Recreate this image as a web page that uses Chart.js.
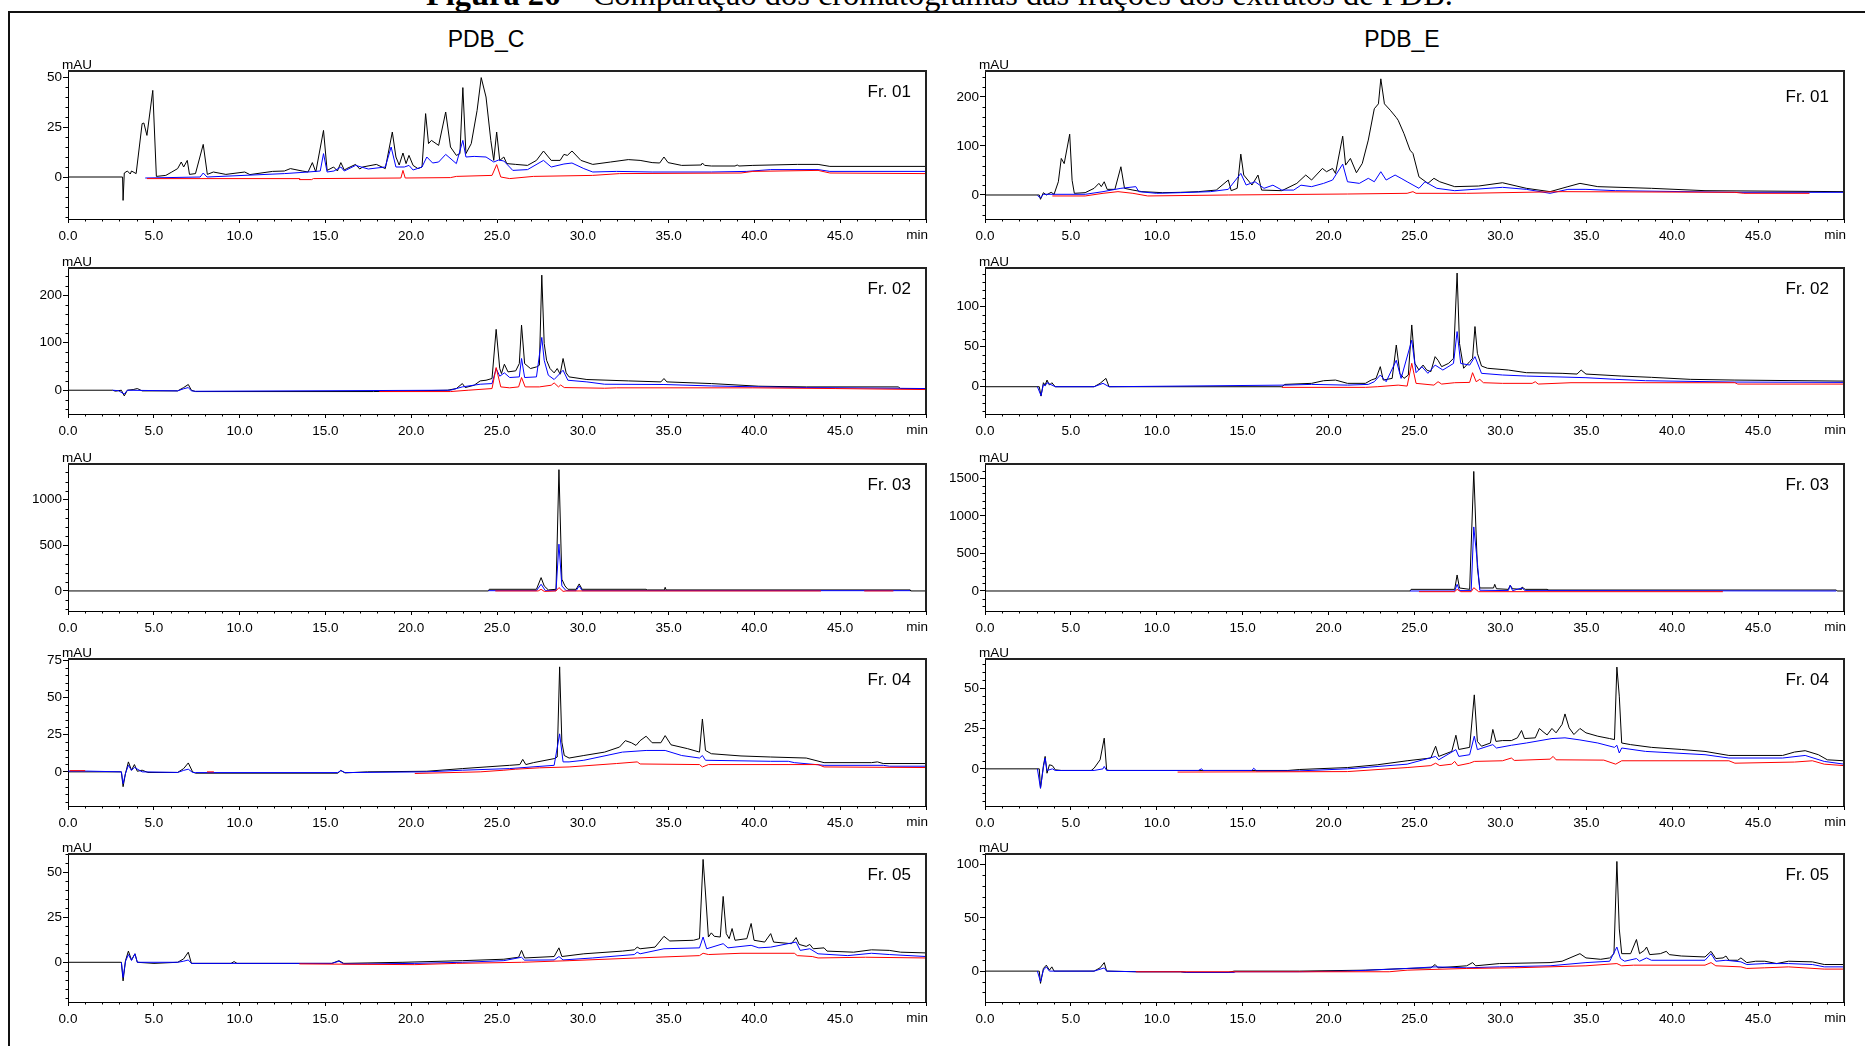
<!DOCTYPE html>
<html>
<head>
<meta charset="utf-8">
<script src="https://cdn.jsdelivr.net/npm/chart.js@4.4.1/dist/chart.umd.min.js"></script>
<style>
  html, body { margin: 0; padding: 0; background: #fff; }
  body { width: 1865px; height: 1046px; position: relative; overflow: hidden; font-family: "Liberation Sans", Arial, sans-serif; }
  canvas { position: absolute; }
  .frameTop { position: absolute; left: 8px; top: 11px; width: 1857px; height: 2px; background: #111; }
  .frameLeft { position: absolute; left: 8px; top: 11px; width: 2px; height: 1035px; background: #111; }
  #title { position: absolute; white-space: nowrap; font-family: "Liberation Serif", "Times New Roman", serif; color: #000; }
  .head { position: absolute; top: 28px; font-size: 23px; line-height: 23px; transform: translateX(-50%); color: #000; }
</style>
</head>
<body>
<div id="title"><b>Figura 26</b> – Comparação dos cromatogramas das frações dos extratos de PDB.</div>
<div class="frameTop"></div>
<div class="frameLeft"></div>
<div class="head" style="left:486px">PDB_C</div>
<div class="head" style="left:1402px">PDB_E</div>
<script>
// x: retention time (min), y: absorbance (mAU); [t, mAU] pairs

// ---- PDB_C ----
const pdbC1Black = [[0,0],[3.18,0],[3.21,-11.7],[3.28,2],[3.46,3],[3.63,1.5],[3.7,3],[3.97,1.7],[4.32,26.7],[4.42,27],[4.6,20.8],[4.94,43.3],[5.15,0.3],[5.7,0.8],[6.05,2.5],[6.39,4.2],[6.6,7.5],[6.74,5],[6.95,8.3],[7.08,1.3],[7.43,1.7],[7.88,16.3],[8.12,1.3],[8.47,2.5],[9.2,1.3],[10.3,2.5],[10.6,1.2],[11.92,2.8],[12.61,3],[12.96,4.2],[13.65,3],[13.99,2.5],[14.24,7.2],[14.44,2.5],[14.89,23.3],[15.1,3.3],[15.48,5],[15.7,3],[15.9,7.2],[16.1,3.5],[16.24,4.2],[16.76,6.3],[17.0,4],[17.17,5],[17.97,6.3],[18.49,4.2],[18.9,22.5],[19.11,10],[19.3,6],[19.52,12],[19.7,6.7],[19.87,10.8],[20.11,5.8],[20.39,4.2],[20.63,5],[20.84,31.7],[21.01,16.7],[21.18,18.3],[21.6,15.8],[22.01,32.5],[22.29,15],[22.63,10.8],[22.84,11.7],[23.01,44.7],[23.19,11.7],[23.5,16.7],[23.84,33.3],[24.08,49.7],[24.36,40],[24.64,18.3],[24.81,8.3],[24.98,22.5],[25.16,8.3],[25.4,10],[25.57,6.7],[26.09,6.3],[26.78,5.8],[27.3,8.3],[27.71,13],[28.16,8.3],[28.68,8.3],[28.9,11.3],[29.1,10.8],[29.37,13],[29.89,8.3],[30.58,6.3],[31.62,7.5],[32.65,8.7],[33.34,8.3],[34.04,7.2],[34.48,7],[34.73,10],[34.97,7.2],[35.76,5.8],[36.9,6],[36.97,7],[37.1,5.8],[37.49,5.5],[38.87,5.5],[39.0,6],[39.1,5.5],[39.91,5.8],[42.5,6.3],[43.71,6.3],[44.4,5.3],[50,5.3]];
const pdbC1Blue = [[4.5,-0.5],[7.7,0],[7.88,2],[8.1,0],[12.61,1.7],[13.99,2.5],[14.7,3],[14.89,11.7],[15.1,2.5],[15.5,3],[15.9,5],[16.1,3],[16.76,5.8],[17.5,4],[18.49,5],[18.83,15],[19.11,5],[19.6,5],[19.87,5.8],[20.11,3.5],[20.63,5],[20.91,10],[21.25,7],[21.6,7.5],[22.01,11.3],[22.63,6.7],[23.01,18.3],[23.19,10],[23.67,10.3],[24.36,10],[24.81,7.5],[25.1,8.5],[25.4,8],[25.92,3.3],[26.78,3.7],[27.71,8.3],[28.16,5],[28.9,6.5],[29.37,7],[30.06,4.2],[30.58,2.5],[31.96,2.8],[34.04,2.5],[37.49,2.5],[39.56,2.8],[40.95,3.7],[43.71,3.7],[44.4,2.8],[50,2.8]];
const pdbC1Red = [[4.6,-0.8],[13.48,-0.8],[13.5,-1.3],[14.2,-1.3],[14.3,-0.8],[19.4,-0.5],[19.52,3.3],[19.65,-0.5],[22.29,-0.3],[22.63,0.3],[24.71,0.8],[24.98,6.2],[25.22,0],[25.74,-0.8],[27.12,0.3],[30.58,0.8],[32.14,1.7],[39.22,2],[39.91,2.8],[43.71,3.3],[44.4,2],[50,1.7]];

const pdbC2Black = [[0,0],[2.6,0],[2.76,-2],[3.11,0],[3.28,-12],[3.46,0],[3.8,1.4],[4.04,3.5],[4.32,-1.4],[6.39,-1.4],[6.74,5.6],[7.01,12],[7.19,0],[7.43,-2.8],[17.8,-2.8],[22.11,0],[22.63,3.5],[22.98,14],[23.15,5.6],[23.67,10.5],[24.02,19.6],[24.36,21],[24.71,24.6],[24.95,128],[25.16,45.6],[25.26,35],[25.43,54.7],[25.64,38.6],[26.09,40.7],[26.3,56],[26.43,137],[26.61,56],[26.95,45.6],[27.3,49],[27.47,52.6],[27.61,242],[27.75,98],[27.89,63],[28.09,45.6],[28.33,36.5],[28.51,45.6],[28.68,33.7],[28.85,66.7],[29.03,36.5],[29.2,28],[30.24,22.5],[32.65,19.6],[34.55,17.5],[34.73,24.6],[34.9,17.5],[37.49,14],[40.26,8.4],[43.02,7],[48.38,7],[48.52,3.5],[50,3.5]];
const pdbC2Blue = [[2.6,0],[2.94,-1],[3.28,-8],[3.46,0],[6.39,-1.4],[6.74,3],[7.01,5.6],[7.19,-1.4],[7.43,-2.2],[22.29,0],[22.98,7],[24.02,12.6],[24.71,14],[24.95,45.6],[25.16,29.5],[25.43,36.5],[25.74,26.7],[26.3,28],[26.43,66.7],[26.61,26.7],[27.3,28],[27.61,111],[27.75,63],[27.99,31.6],[28.33,22.5],[28.85,42],[29.13,21],[30.24,17.5],[31.27,12.6],[34.73,12],[37.49,9],[40.26,7],[43.02,5.6],[50,3.5]];
const pdbC2Red = [[18.14,-2.8],[22.29,-2.8],[23.32,0],[24.71,3.5],[24.95,47.7],[25.22,7],[25.74,5],[26.26,7],[26.43,26.7],[26.64,7],[27.47,7],[28.16,10.5],[28.33,15.4],[28.58,7],[28.71,11],[28.92,5.6],[31.27,4.2],[31.96,5],[39.91,5],[44.75,3.5],[50,1.4]];

const pdbC3Black = [[0,0],[24.5,0],[24.55,18],[27.3,18],[27.57,146],[27.75,55],[27.99,11],[28.44,18],[28.61,1330],[28.78,128],[28.96,55],[29.13,18],[29.61,18],[29.79,77],[29.96,18],[33.69,18],[33.75,11],[34.75,11],[34.8,40],[34.85,11],[49.07,11],[49.1,0],[50,0]];
const pdbC3Blue = [[24.5,3],[27.3,3],[27.57,73],[27.82,3],[28.44,3],[28.61,513],[28.78,55],[29.03,3],[29.61,3],[29.79,55],[29.96,3],[49.07,3]];
const pdbC3Red = [[24.9,0],[27.4,0],[27.57,18],[27.75,-5],[28.44,0],[28.61,37],[28.85,-5],[29.03,0],[43.88,0],[43.9,null],[46.4,0],[48.1,0]];

const pdbC4Black = [[0,0],[3.11,0],[3.21,-10],[3.35,-1.1],[3.52,6.7],[3.7,1.1],[3.87,4.9],[4.04,0.4],[4.32,1.1],[4.66,-0.4],[6.39,-0.4],[6.74,2.2],[7.01,6],[7.26,0],[7.43,-0.9],[15.72,-0.9],[15.9,0.9],[16.14,-0.7],[17.45,0],[20.91,0.4],[22.98,2.2],[24.36,3.3],[25.74,4.4],[26.33,4.9],[26.5,8.4],[26.68,4.9],[27.12,6.2],[28.33,8.9],[28.51,10],[28.65,70.7],[28.78,20],[28.92,11],[29.2,9.3],[30.06,11],[31.27,13.3],[32.14,16.7],[32.48,21],[32.83,19.6],[33.1,17.8],[33.34,21],[33.69,24],[34.04,19.6],[34.55,19.6],[34.8,24.4],[35.14,18.2],[36.11,15.6],[36.8,13.3],[36.97,35.6],[37.15,14.4],[37.49,12.2],[39.22,10.7],[40.95,10],[43.02,9.3],[44.06,6.2],[46.82,6.2],[47.17,6.7],[47.51,5.6],[50,5.6]];
const pdbC4Blue = [[0,0.5],[1.1,0.5],[3.11,0],[3.21,-8],[3.35,-1],[3.52,4.4],[3.7,1],[3.87,3],[4.32,0],[6.39,-0.4],[6.74,1],[7.01,1.8],[7.26,-0.4],[7.43,-0.5],[15.72,-0.5],[15.9,0.9],[16.14,-0.5],[20.91,0],[22.98,1.1],[25.74,2.2],[28.33,4.4],[28.65,25.6],[28.85,6.7],[29.2,6.7],[30.06,7.8],[32.31,13.3],[33.69,14.4],[34.8,14.4],[35.76,11],[36.8,9.3],[36.97,11],[37.15,7.8],[40.95,7.1],[41.98,7.1],[42.33,6.2],[44.06,4.4],[47.51,4.4],[47.86,3.8],[50,3.8]];
const pdbC4Red = [[0.1,0.8],[1.0,0.8],[1.1,null],[8.1,0],[8.5,0],[8.6,null],[20.21,-1.1],[24.02,0],[25.4,1.1],[26.09,1.8],[27.47,2.7],[29.2,3.3],[31.96,5.6],[33.17,6.7],[33.34,5.3],[36.8,4.9],[36.97,3.3],[37.32,4.9],[43.71,4.9],[44.06,3.3],[50,2.9]];

const pdbC5Black = [[0,0],[3.11,0],[3.21,-10.3],[3.35,0.9],[3.52,6.2],[3.7,1.3],[3.9,4.7],[4.04,0],[5.01,-0.6],[6.39,0],[6.74,1.9],[7.01,5.6],[7.19,-0.6],[9.5,-0.6],[9.68,0.4],[9.85,-0.6],[15.38,-0.6],[15.79,0.9],[16.07,-0.6],[19.52,0],[22.98,0.9],[25.4,1.7],[26.26,2.8],[26.43,6.6],[26.61,2.4],[28.33,3.2],[28.61,8],[28.78,3.2],[30.06,4.7],[32.31,6.2],[33.0,6.9],[33.17,8.4],[33.34,7.5],[34.21,8.4],[34.73,14.4],[35.07,11.8],[36.45,12.2],[36.8,13.1],[37.01,57],[37.15,38.4],[37.32,14],[37.49,16.3],[37.66,14.4],[38.01,14],[38.18,36.5],[38.36,15.9],[38.53,13.1],[38.7,18.7],[38.87,12.2],[39.56,13.1],[39.81,21.5],[39.98,12.2],[40.6,11.2],[40.95,15.9],[41.12,11.2],[42.16,10.3],[42.43,13.7],[42.61,9.9],[43.02,8.8],[43.23,9.9],[43.43,7.5],[44.06,8],[44.23,6.2],[45.78,5.6],[46.82,6.9],[47.86,6.6],[48.52,5.6],[50,5.2]];
const pdbC5Blue = [[3.11,0],[3.21,-8.4],[3.35,0.5],[3.52,4.3],[3.7,1],[3.9,4.7],[4.04,0],[6.39,0],[6.74,0.6],[7.01,1.3],[7.19,-0.6],[15.38,-0.6],[15.79,0.6],[16.07,-0.9],[17.45,-0.9],[20.21,-0.6],[22.98,0],[25.4,0.9],[26.43,2.8],[26.6,1.2],[28.33,1.3],[28.61,3.2],[28.85,1.3],[30.58,2.4],[33.0,4.3],[33.17,5.6],[33.34,4.7],[34.73,7.5],[36.8,8],[37.01,14],[37.22,7.5],[38.18,10.3],[38.46,8],[39.81,9.4],[40.26,8],[40.95,8.4],[42.43,11.2],[42.67,6.6],[43.23,7.5],[43.71,4.7],[45.44,3.7],[46.82,5],[47.86,4.3],[50,3.2]];
const pdbC5Red = [[13.48,-0.9],[20.21,-1.3],[22.63,-0.6],[26.43,0],[29.2,0.9],[33.17,2.4],[36.8,3.7],[37.01,5],[37.32,4.3],[39.22,5],[42.33,5],[42.5,3.7],[43.37,3.2],[43.71,2.4],[46.48,2.8],[50,2.4]];

// ---- PDB_E ----
const pdbE1Black = [[0,0],[3.16,0],[3.23,-8.8],[3.4,4.7],[3.57,0],[3.85,5.4],[4.02,1.4],[4.27,27],[4.44,74.6],[4.61,64],[4.93,124],[5.07,30],[5.2,3.4],[5.83,4.7],[6.35,13.6],[6.63,23.7],[6.77,17],[6.94,27],[7.11,11.5],[7.56,11.5],[7.91,57.6],[8.12,13.6],[8.61,10],[9.13,6.8],[10.34,4.7],[11.38,5.4],[12.42,6.8],[13.46,10],[14.16,30.5],[14.33,8.8],[14.68,13.6],[14.89,83.4],[15.06,40.7],[15.54,20.3],[15.89,40.7],[16.1,10],[17.28,8.8],[18.15,23.7],[18.67,40.7],[19.01,30.5],[19.64,54.2],[19.88,47.5],[20.23,54.2],[20.4,44],[20.82,120],[20.99,61],[21.27,74.6],[21.62,45.4],[21.96,64.4],[22.31,112],[22.66,176],[22.9,186],[23.04,237],[23.25,186],[23.59,173],[23.94,158],[24.05,152.5],[24.39,125],[24.74,91.5],[24.91,84.7],[25.26,37],[25.78,23.7],[26.13,34],[26.47,27],[27.34,17],[28.73,18.3],[30.12,25],[31.51,13.6],[32.89,6.8],[33.93,17],[34.63,23.7],[35.67,17],[38.79,13.6],[41.91,8.8],[50,6.8]];
const pdbE1Blue = [[3.05,-1],[3.23,-6],[3.4,1.4],[5.83,1.4],[6.87,6.8],[7.91,13.6],[8.78,17],[8.95,6.8],[9.99,3.4],[11.38,4.7],[13.12,6.8],[14.16,11.5],[14.89,44],[15.2,20.3],[15.72,27],[16.24,13.6],[16.76,20],[17.28,10],[17.97,10],[18.39,20],[19.01,17],[19.71,23.7],[20.23,30.5],[20.82,63],[21.1,27],[21.79,23.7],[22.31,34],[22.66,27],[23.04,47.5],[23.35,30.5],[23.87,40.7],[24.22,34],[24.57,27],[25.26,13.6],[25.61,27],[26.3,13.6],[27.34,8.8],[30.12,15.6],[31.51,11.5],[32.89,3.4],[33.93,11.5],[34.98,11.5],[36.71,8.8],[43.65,5.4],[50,5.4]];
const pdbE1Red = [[3.92,-2],[5.83,-2],[6.87,3.4],[7.74,6.8],[8.61,3.4],[9.47,-2],[14.16,0],[21.1,2],[24.57,3.4],[24.91,6.8],[25.09,3.4],[28.04,3.4],[33.59,6.8],[43.65,5.4],[44.17,3.4],[47.99,3.4]];

const pdbE2Black = [[0,0],[3.16,0],[3.26,-11.7],[3.4,5],[3.5,2],[3.61,8.3],[3.75,2],[3.89,5],[4.09,0],[6.35,0],[6.7,4.2],[7.04,10.4],[7.22,0],[17.28,0],[17.45,2.9],[19.01,4.2],[19.71,7.5],[20.4,8.3],[21.1,4.2],[22.14,4.2],[22.48,8.3],[22.76,10.4],[23.01,25],[23.18,8.3],[23.7,10.4],[23.94,52],[24.15,16.7],[24.39,10.4],[24.64,14.6],[24.84,77],[25.02,29.2],[25.26,20.8],[25.5,27],[25.71,20.8],[25.95,18.75],[26.2,37.5],[26.37,33],[26.58,25],[26.99,29.2],[27.27,35.4],[27.48,141.7],[27.62,54],[27.86,23],[28.21,31.25],[28.38,35.4],[28.52,75],[28.66,41.7],[28.9,25.8],[29.25,23],[30.46,20.8],[31.51,17.5],[33.59,16.7],[34.46,15.8],[34.7,20.8],[34.98,15.8],[37.06,13.3],[38.79,11.7],[41.05,9.2],[43.65,8.3],[50,7]];
const pdbE2Blue = [[3.05,0],[3.26,-11],[3.4,3],[3.5,1],[3.61,5],[4.09,0],[6.35,0],[6.87,4.2],[7.22,0],[17.45,2],[19.01,2.9],[21.1,2],[22.31,2.9],[22.66,6.25],[23.01,14.6],[23.35,6.25],[23.94,33],[24.22,10.4],[24.84,58],[25.09,17.5],[25.43,25],[25.78,16.7],[26.2,27],[26.65,20.8],[27.27,29],[27.48,68.75],[27.69,29],[28.21,27],[28.52,37.5],[28.9,16.7],[30.12,14.6],[31.51,13.3],[32.89,12.5],[34.98,11.25],[36.71,9.2],[38.45,7.5],[43.65,5.8],[50,5.4]];
const pdbE2Red = [[17.28,-0.8],[22.14,-0.8],[22.83,0],[24.05,2],[24.57,0.8],[24.84,29.2],[25.09,4.2],[26.13,2],[26.37,6.25],[26.58,3.3],[27.34,5],[28.21,5.4],[28.38,17.5],[28.59,6.25],[28.8,9.2],[29.01,5],[30.12,4.2],[31.85,4.2],[32.03,6.25],[32.2,3.3],[34.11,5],[43.65,5],[43.82,3.3],[50,3.3]];

const pdbE3Black = [[0,0],[24.74,0],[24.8,22],[27.34,22],[27.48,213],[27.62,40],[28.21,22],[28.45,1590],[28.66,311],[28.8,40],[29.6,40],[29.67,89],[29.77,30],[30.46,22],[30.57,75],[30.71,30],[31.23,22],[31.26,53],[31.44,22],[32.72,22],[32.75,13],[49.55,13],[49.6,0],[50,0]];
const pdbE3Blue = [[24.74,0],[27.34,0],[27.48,89],[27.62,5],[28.3,5],[28.45,852],[28.66,377],[28.8,10],[30.46,5],[30.57,75],[30.71,5],[31.26,40],[31.44,5],[49.55,0]];
const pdbE3Red = [[25.26,-9],[27.34,-9],[27.48,22],[27.69,-9],[28.3,-9],[28.45,44],[28.73,-9],[42.95,-9]];

const pdbE4Black = [[0,0],[3.16,0],[3.23,-12],[3.4,2],[3.5,7.7],[3.61,-2.7],[3.75,2.5],[3.92,2],[4.09,-0.6],[4.44,-1],[6.18,-1],[6.35,0.4],[6.7,5.6],[6.94,19],[7.08,-0.6],[7.22,-1],[17.63,-1],[18.32,-0.4],[21.1,0.8],[22.83,2.5],[24.57,5],[25.95,6.7],[26.23,14],[26.41,7.7],[27.17,10.8],[27.41,20.8],[27.58,12],[28.21,13.3],[28.48,45.8],[28.66,17],[28.9,14],[29.42,16],[29.56,24.4],[29.74,17],[30.12,17.5],[30.64,17.5],[30.99,19.2],[31.23,23.75],[31.4,18.75],[32.03,19.2],[32.27,25],[32.48,23],[32.72,21],[33.0,25],[33.24,22.3],[33.59,27.5],[33.76,34],[34.0,25.4],[34.28,21.25],[34.63,25],[34.98,22.3],[35.67,20.2],[36.36,18.75],[36.64,18.1],[36.78,63],[36.92,45],[37.06,16],[37.58,15],[38.79,13.3],[40.53,12],[41.91,10.8],[43.3,8.3],[46.43,8.3],[47.12,10.4],[47.74,11.25],[48.51,8.75],[49.03,5.6],[50,5]];
const pdbE4Blue = [[3.05,0],[3.23,-12],[3.4,1],[3.5,6.7],[3.61,-1],[3.92,0],[4.09,-1],[6.35,-1],[6.87,0],[6.94,1.5],[7.08,-1],[12.42,-1],[12.6,0],[12.7,-1],[15.54,-1],[15.64,0.4],[15.8,-1.25],[18.32,-1.25],[21.1,0],[24.57,2.9],[26.23,7.7],[26.41,5.6],[27.41,11.9],[27.58,7.7],[28.21,8.75],[28.48,20.2],[28.66,11.9],[29.56,15],[29.77,12.9],[30.64,14.6],[31.51,16],[33.0,18.75],[33.76,19.2],[34.63,17.9],[35.67,16],[36.64,13.3],[36.78,14.6],[36.92,9.8],[37.06,12.9],[38.45,10.8],[41.91,8.75],[43.3,6.7],[46.43,6.7],[47.74,8.3],[48.85,4.6],[50,2.9]];
const pdbE4Red = [[11.21,-2],[21.1,-1.7],[24.57,0.8],[25.95,2],[26.23,3.5],[26.47,2],[27.17,2.9],[27.34,4.6],[27.52,2],[28.21,3.5],[28.48,4.6],[30.12,5],[30.64,6.7],[30.81,5.2],[32.89,6],[33.07,7.7],[33.24,5.6],[36.02,5.4],[36.71,2.9],[37.06,5],[43.3,5],[43.65,3.5],[47.12,4.2],[48.16,5],[48.85,2.9],[50,2]];

const pdbE5Black = [[0,0],[3.16,0],[3.23,-11.5],[3.4,2.5],[3.57,5.6],[3.75,0.9],[3.89,4],[4.02,0],[6.35,0],[6.7,3.1],[6.94,8],[7.08,0],[8.95,-0.6],[11.38,-0.6],[11.73,-1.2],[14.16,-1.2],[14.5,0],[18.32,0],[22.14,0.9],[24.57,2.5],[25.95,3.1],[26.2,6.2],[26.37,3.1],[28.04,5],[28.38,8],[28.56,5],[29.94,7.1],[32.89,8],[33.59,9.3],[34.63,16.4],[34.98,12.4],[35.84,11.1],[36.36,12.4],[36.61,16.4],[36.78,103],[36.92,39.6],[37.06,16.4],[37.58,16.4],[37.92,29.7],[38.1,16.4],[38.38,19.5],[38.51,22.6],[38.69,15.5],[39.31,16.4],[39.66,18.6],[39.83,15.5],[40.53,14.2],[41.91,13.3],[42.26,18.6],[42.54,11.8],[42.96,12.4],[43.13,14.2],[43.3,10.2],[43.82,10.2],[44.0,12.4],[44.34,8],[44.86,9.3],[45.39,9.3],[46.08,7.1],[46.77,9.3],[48.16,8.7],[48.85,6.2],[50,6.2]];
const pdbE5Blue = [[3.05,0],[3.23,-10],[3.4,1],[3.57,4],[3.75,0],[6.35,0],[6.94,3],[7.08,0],[8.78,-0.6],[11.38,-0.6],[11.73,-1.2],[14.5,-1.2],[14.6,-0.6],[18.32,-0.6],[21.1,0],[24.57,2.5],[26.2,4],[28.04,3.1],[29.94,4],[32.89,5],[34.98,8],[36.36,9.3],[36.78,22.6],[36.99,11.8],[37.23,9.3],[37.92,11.8],[38.1,9.3],[38.51,12.4],[38.79,10.2],[41.91,10.2],[42.26,16.4],[42.54,9.3],[43.13,10.2],[44.0,8.7],[44.34,6.2],[45.39,7.1],[46.77,7.1],[48.16,6.2],[48.85,4],[50,4]];
const pdbE5Red = [[8.78,-0.6],[18.49,-0.6],[23.53,-0.6],[24.57,0.9],[28.04,2.5],[30.81,3.1],[34.98,5],[36.78,7.1],[37.06,5],[37.75,5.6],[41.91,5.6],[42.26,8],[42.54,5],[44.0,4],[44.34,2.5],[45.39,3.1],[46.77,4],[48.85,1.9],[50,1.9]];

// axis ranges (mAU) and labelled step of each panel
const yRanges = { c1:[-21,53], c2:[-50,257], c3:[-220,1392], c4:[-23,76], c5:[-22,60],
                  e1:[-49,253], e2:[-34,148], e3:[-266,1689], e4:[-23,68], e5:[-29,110] };
const ySteps  = { c1:25, c2:100, c3:500, c4:25, c5:25, e1:100, e2:50, e3:500, e4:25, e5:50 };
const fracLabels = ['Fr. 01','Fr. 02','Fr. 03','Fr. 04','Fr. 05'];

// layout
const colX = { c:[68,926], e:[985,1844] };
const rowY = [[71,219],[268,414],[464,611],[659,806],[854,1002]];

const panels = [
  { key:'c1', col:'c', row:0, traces:[pdbC1Red, pdbC1Blue, pdbC1Black] },
  { key:'c2', col:'c', row:1, traces:[pdbC2Red, pdbC2Blue, pdbC2Black] },
  { key:'c3', col:'c', row:2, traces:[pdbC3Red, pdbC3Blue, pdbC3Black] },
  { key:'c4', col:'c', row:3, traces:[pdbC4Red, pdbC4Blue, pdbC4Black] },
  { key:'c5', col:'c', row:4, traces:[pdbC5Red, pdbC5Blue, pdbC5Black] },
  { key:'e1', col:'e', row:0, traces:[pdbE1Red, pdbE1Blue, pdbE1Black], labelDy:5 },
  { key:'e2', col:'e', row:1, traces:[pdbE2Red, pdbE2Blue, pdbE2Black] },
  { key:'e3', col:'e', row:2, traces:[pdbE3Red, pdbE3Blue, pdbE3Black] },
  { key:'e4', col:'e', row:3, traces:[pdbE4Red, pdbE4Blue, pdbE4Black] },
  { key:'e5', col:'e', row:4, traces:[pdbE5Red, pdbE5Blue, pdbE5Black] },
];
const traceColors = ['#ff0000', '#0000ff', '#000000'];

Chart.defaults.font.family = '"Liberation Sans", Arial, sans-serif';
Chart.defaults.color = '#000';

// minor ticks, frame, "mAU", "min" and fraction label
const panelDecor = {
  id: 'panelDecor',
  afterDraw(chart, args, opts) {
    const { ctx, chartArea: a, scales: { x, y } } = chart;
    ctx.save();
    ctx.strokeStyle = '#222';
    ctx.lineWidth = 2;
    ctx.beginPath();
    ctx.moveTo(a.left, a.top);
    ctx.lineTo(a.right, a.top);
    ctx.lineTo(a.right, a.bottom);
    ctx.stroke();

    ctx.strokeStyle = '#000';
    ctx.lineWidth = 1;
    ctx.beginPath();
    for (let t = 1; t < 50; t++) {
      if (t % 5 === 0) continue;
      const px = Math.round(x.getPixelForValue(t)) + 0.5;
      ctx.moveTo(px, a.bottom);
      ctx.lineTo(px, a.bottom + 2.5);
    }
    const ms = opts.step / 5;
    for (let k = Math.ceil(y.min / ms); k * ms <= y.max; k++) {
      if (k % 5 === 0) continue;
      const py = Math.round(y.getPixelForValue(k * ms)) + 0.5;
      ctx.moveTo(a.left, py);
      ctx.lineTo(a.left - 2.5, py);
    }
    ctx.stroke();

    ctx.fillStyle = '#000';
    ctx.font = '13.5px "Liberation Sans", Arial, sans-serif';
    ctx.textBaseline = 'alphabetic';
    ctx.textAlign = 'right';
    ctx.fillText('min', a.right + 2, a.bottom + 20);
    ctx.textAlign = 'left';
    ctx.fillText('mAU', a.left - 6, a.top - 2);
    ctx.font = '17px "Liberation Sans", Arial, sans-serif';
    ctx.textAlign = 'right';
    ctx.fillText(opts.label, a.right - 15, a.top + 26 + (opts.dy || 0));
    ctx.restore();
  }
};

function makePanel(p) {
  const padL = 60, padT = 22, padR = 14, padB = 28;
  const [x0, x1] = colX[p.col];
  const [y0, y1] = rowY[p.row];
  const step = ySteps[p.key];
  const cv = document.createElement('canvas');
  cv.width = (x1 - x0) + padL + padR;
  cv.height = (y1 - y0) + padT + padB;
  cv.style.left = (x0 - padL) + 'px';
  cv.style.top = (y0 - padT) + 'px';
  document.body.appendChild(cv);

  new Chart(cv, {
    type: 'line',
    data: {
      datasets: p.traces.map((pts, i) => ({
        data: pts.map(([t, v]) => ({ x: t, y: v })),
        borderColor: traceColors[i],
        borderWidth: 1,
        pointRadius: 0,
        tension: 0,
        fill: false,
      })),
    },
    options: {
      responsive: false,
      animation: false,
      devicePixelRatio: 1,
      layout: { padding: { top: padT, right: padR, left: 0, bottom: 0 } },
      plugins: {
        legend: { display: false },
        tooltip: { enabled: false },
        panelDecor: { label: fracLabels[p.row], step: step, dy: p.labelDy },
      },
      scales: {
        x: {
          type: 'linear', min: 0, max: 50,
          ticks: { stepSize: 5, autoSkip: false, maxRotation: 0, padding: 5, font: { size: 13.5 },
                   callback: v => (v === 50 ? '' : v.toFixed(1)) },
          grid: { drawOnChartArea: false, tickLength: 4, color: '#000' },
          border: { color: '#000' },
          afterFit: s => { s.height = padB; },
        },
        y: {
          min: yRanges[p.key][0], max: yRanges[p.key][1],
          ticks: { padding: 1, font: { size: 13.5 }, autoSkip: false, callback: v => String(v) },
          grid: { drawOnChartArea: false, tickLength: 5, color: '#000' },
          border: { color: '#000' },
          afterBuildTicks: s => {
            const t = [];
            for (let k = Math.ceil(s.min / step); k * step <= s.max; k++) t.push({ value: k * step });
            s.ticks = t;
          },
          afterFit: s => { s.width = padL; },
        },
      },
    },
    plugins: [panelDecor],
  });
}

panels.forEach(makePanel);

// title: clipped at the top edge, spans x 426..1453
const title = document.getElementById('title');
title.style.fontSize = '28px';
const tw = title.offsetWidth;
const fs = 28 * 1027 / tw;
title.style.fontSize = fs + 'px';
title.style.lineHeight = fs + 'px';
title.style.left = (939.5 - title.offsetWidth / 2) + 'px';
title.style.top = (5 - 0.8375 * fs) + 'px';
</script>
</body>
</html>
